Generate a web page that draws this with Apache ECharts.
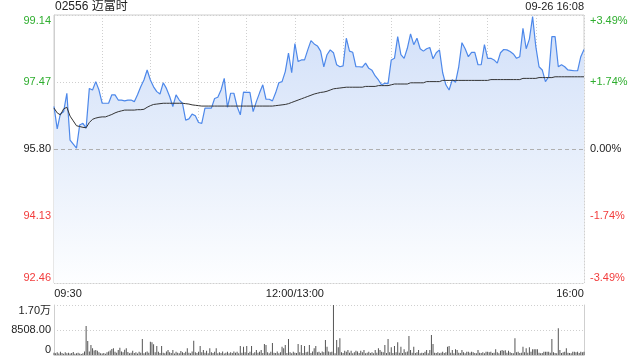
<!DOCTYPE html>
<html><head><meta charset="utf-8">
<script src="https://cdn.jsdelivr.net/npm/echarts@6/dist/echarts.min.js"></script>
<style>html,body{margin:0;padding:0;background:#fff}#c{width:640px;height:360px}</style>
</head><body><div id="c"></div>
<script>
const stockTitle = '02556 迈富时';
const stampText = '09-26 16:08';
const watermark = 'sina.com';
const prevClose = 95.80;
const priceStep = 1.67;
const priceTicks = ['92.46', '94.13', '95.80', '97.47', '99.14'];
const pctTicks = ['-3.49%', '-1.74%', '0.00%', '+1.74%', '+3.49%'];
const timeTicks = { 0: '09:30', 150: '12:00/13:00', 330: '16:00' };
const volMax = 17016;
const volTicks = { 0: '0', 8508: '8508.00', 17016: '1.70万' };
const priceEveryMin = 2;

const prices = [
96.86, 96.30, 96.68, 96.73, 97.19, 96.02, 95.92, 95.82, 96.40, 96.44,
96.32, 97.31, 97.27, 97.48, 97.27, 96.94, 96.94, 96.94, 97.15, 97.15,
97.02, 97.02, 97.00, 97.02, 97.02, 96.98, 97.15, 97.35, 97.52, 97.77,
97.52, 97.35, 97.23, 97.17, 97.45, 97.31, 97.11, 96.86, 97.15, 97.02,
96.94, 96.52, 96.55, 96.67, 96.63, 96.46, 96.44, 96.82, 96.82, 96.82,
97.06, 97.09, 97.27, 97.56, 96.84, 97.19, 97.19, 96.86, 96.65, 97.22,
97.21, 97.21, 96.73, 96.98, 97.20, 97.40, 97.04, 97.04, 97.00, 97.20,
97.45, 97.48, 97.73, 98.19, 97.70, 98.43, 97.98, 98.02, 98.02, 98.27,
98.50, 98.42, 98.37, 98.24, 97.85, 98.15, 98.27, 98.20, 97.90, 97.85,
97.87, 98.56, 98.24, 98.21, 97.85, 97.85, 97.84, 97.94, 97.81, 97.76,
97.62, 97.52, 97.40, 97.44, 97.43, 98.02, 98.06, 98.60, 98.15, 98.06,
98.31, 98.67, 98.40, 98.56, 98.30, 98.24, 98.30, 98.33, 98.05, 98.20,
98.27, 97.70, 97.40, 97.27, 97.53, 97.46, 97.85, 98.45, 98.30, 98.10,
98.21, 98.21, 97.90, 97.90, 98.40, 98.06, 98.06, 98.02, 97.94, 98.20,
98.28, 98.27, 98.23, 98.17, 98.06, 98.10, 98.81, 98.30, 98.54, 99.10,
98.35, 97.85, 97.77, 97.48, 97.60, 98.60, 98.60, 97.85, 97.90, 97.85,
97.77, 97.76, 97.75, 97.75, 98.10, 98.28
];

const avgPrices = [
96.82, 96.70, 96.65, 96.80, 96.84, 96.62, 96.50, 96.38, 96.36, 96.34,
96.33, 96.46, 96.54, 96.57, 96.59, 96.60, 96.60, 96.63, 96.66, 96.70,
96.73, 96.75, 96.77, 96.77, 96.77, 96.77, 96.78, 96.78, 96.79, 96.84,
96.88, 96.91, 96.92, 96.93, 96.94, 96.94, 96.94, 96.94, 96.94, 96.94,
96.94, 96.93, 96.92, 96.90, 96.89, 96.88, 96.87, 96.87, 96.87, 96.87,
96.87, 96.87, 96.87, 96.87, 96.87, 96.87, 96.87, 96.87, 96.87, 96.87,
96.87, 96.87, 96.87, 96.87, 96.87, 96.87, 96.87, 96.87, 96.87, 96.88,
96.89, 96.90, 96.91, 96.93, 96.96, 96.99, 97.02, 97.05, 97.08, 97.11,
97.14, 97.17, 97.19, 97.21, 97.22, 97.24, 97.27, 97.30, 97.31, 97.32,
97.33, 97.34, 97.34, 97.34, 97.34, 97.34, 97.34, 97.36, 97.36, 97.36,
97.36, 97.38, 97.38, 97.38, 97.38, 97.40, 97.42, 97.42, 97.42, 97.42,
97.42, 97.45, 97.45, 97.45, 97.45, 97.45, 97.48, 97.48, 97.48, 97.48,
97.48, 97.51, 97.51, 97.51, 97.51, 97.51, 97.51, 97.51, 97.51, 97.51,
97.51, 97.51, 97.51, 97.51, 97.51, 97.51, 97.53, 97.53, 97.53, 97.53,
97.53, 97.53, 97.53, 97.53, 97.53, 97.53, 97.56, 97.56, 97.56, 97.56,
97.56, 97.58, 97.58, 97.58, 97.58, 97.58, 97.60, 97.60, 97.60, 97.60,
97.60, 97.60, 97.60, 97.60, 97.60, 97.60
];

const volumes = [
800, 600, 900, 500, 1100, 700, 400, 900, 600, 800,
500, 700, 1000, 400, 600, 800, 500, 300, 600, 1200,
9870, 4760, 1200, 3400, 2268, 1500, 1700, 1474, 900, 600,
500, 700, 400, 900, 1200, 1500, 2000, 2268, 1100, 800,
1700, 2500, 1200, 900, 1800, 2268, 1000, 600, 800, 1474,
700, 900, 500, 1100, 800, 5445, 600, 900, 1200, 800,
4540, 4300, 3700, 900, 3063, 1100, 700, 3063, 800, 600,
1200, 1701, 900, 700, 1701, 500, 1100, 800, 600, 1400,
900, 700, 1100, 2268, 800, 600, 1200, 4877, 900, 700,
1100, 3063, 900, 1701, 800, 1474, 600, 2268, 900, 700,
1100, 2268, 600, 900, 700, 1200, 500, 800, 1100, 600,
900, 700, 1200, 800, 1100, 600, 3063, 800, 2836, 900,
3063, 700, 1100, 3063, 600, 900, 1701, 800, 1100, 1701,
700, 3743, 3403, 900, 600, 1100, 4100, 800, 700, 1200,
600, 900, 2836, 2268, 3403, 700, 5445, 900, 600, 1100,
800, 700, 3743, 900, 3403, 700, 3063, 900, 1100, 3403,
700, 1200, 2268, 3063, 900, 1100, 700, 1200, 900, 5100,
2836, 1200, 900, 1100, 17000, 600, 5104, 2609, 5672, 900,
700, 1474, 1100, 1701, 800, 1474, 600, 900, 1474, 1200,
700, 1474, 900, 1701, 600, 800, 1100, 700, 900, 600,
1701, 800, 2268, 1701, 1100, 900, 3403, 700, 5445, 900,
2609, 700, 3063, 900, 4311, 800, 2836, 700, 1928, 900,
1200, 6466, 1701, 800, 2836, 700, 900, 1701, 600, 800,
700, 1100, 1701, 600, 1701, 6806, 3743, 800, 700, 900,
600, 800, 1100, 700, 900, 2836, 3063, 800, 1701, 600,
1928, 1701, 800, 700, 1701, 900, 600, 1134, 1134, 800,
1134, 900, 700, 600, 1701, 800, 700, 900, 600, 1134,
1134, 900, 1134, 700, 800, 1928, 900, 600, 1474, 1701,
1474, 1600, 800, 1474, 900, 700, 600, 5672, 900, 1134,
700, 800, 2836, 900, 2268, 800, 2609, 1100, 1928, 1928,
1928, 1928, 800, 600, 700, 1134, 1134, 1134, 1134, 800,
5445, 900, 700, 600, 9075, 1701, 700, 900, 1100, 2268,
800, 700, 600, 1134, 1134, 900, 1134, 700, 1134, 900,
1100
];

const FONT = 'Arial, "Liberation Sans", "Noto Sans CJK SC", sans-serif';
const GREEN = '#2fae2f', RED = '#f23c3c', DARK = '#222';
const toStep = p => (p - prevClose) / priceStep;

function richSet(fs) {
  const base = { fontSize: fs, fontFamily: FONT };
  return {
    gt: Object.assign({ color: GREEN, padding: [11, 0, 0, 0] }, base),
    g: Object.assign({ color: GREEN }, base),
    n: Object.assign({ color: DARK }, base),
    r: Object.assign({ color: RED }, base),
    rb: Object.assign({ color: RED, padding: [0, 0, 11, 0] }, base),
    t: Object.assign({ color: DARK, padding: [11, 0, 0, 0] }, base),
    b: Object.assign({ color: DARK, padding: [0, 0, 11, 0] }, base),
    l: Object.assign({ color: DARK, padding: [0, 0, 0, 28] }, base),
    rr: Object.assign({ color: DARK, padding: [0, 28, 0, 0] }, base),
    c: Object.assign({ color: DARK }, base)
  };
}
function styleFor(v) {
  const k = Math.round(v);
  return k === 2 ? 'gt' : k > 0 ? 'g' : k === 0 ? 'n' : k === -2 ? 'rb' : 'r';
}

const chart = echarts.init(document.getElementById('c'), null, { renderer: 'canvas' });
const gridColor = '#cfcfcf';
chart.setOption({
  animation: false,
  backgroundColor: '#fff',
  grid: [
    { left: 54, right: 56, top: 15, height: 268, show: true, borderColor: gridColor, borderWidth: 1, backgroundColor: 'transparent' },
    { left: 54, right: 56, top: 305, height: 50 }
  ],
  xAxis: [
    {
      type: 'value', gridIndex: 0, min: 0, max: 330, interval: 30,
      axisLine: { show: true, lineStyle: { color: gridColor } }, axisTick: { show: false },
      axisLabel: {
        margin: 5, showMinLabel: true, showMaxLabel: true, rich: richSet(11),
        formatter: v => v === 0 ? '{l|' + timeTicks[0] + '}' : v === 330 ? '{rr|' + timeTicks[330] + '}' : v === 150 ? '{c|' + timeTicks[150] + '}' : ''
      },
      splitLine: { show: true, lineStyle: { color: gridColor, type: [1, 2], width: 1 } }
    },
    {
      type: 'value', gridIndex: 1, min: 0, max: 330, interval: 30,
      axisLine: { show: true, lineStyle: { color: gridColor } }, axisTick: { show: false },
      axisLabel: { show: false }, splitLine: { show: false }
    }
  ],
  yAxis: [
    {
      type: 'value', gridIndex: 0, position: 'left', min: -2, max: 2, interval: 1,
      axisLine: { show: true, lineStyle: { color: gridColor } }, axisTick: { show: false },
      axisLabel: { margin: 3, rich: richSet(11), formatter: v => '{' + styleFor(v) + '|' + priceTicks[Math.round(v) + 2] + '}' },
      splitLine: { show: true, lineStyle: { color: gridColor, type: [1, 2], width: 1 } }
    },
    {
      type: 'value', gridIndex: 0, position: 'right', min: -2, max: 2, interval: 1,
      axisLine: { show: false }, axisTick: { show: false },
      axisLabel: { margin: 6, rich: richSet(11), formatter: v => '{' + styleFor(v) + '|' + pctTicks[Math.round(v) + 2] + '}' },
      splitLine: { show: false }
    },
    {
      type: 'value', gridIndex: 1, position: 'left', min: 0, max: volMax, interval: volMax / 2,
      axisLine: { show: true, lineStyle: { color: gridColor } }, axisTick: { show: false },
      axisLabel: {
        margin: 3, rich: richSet(11),
        formatter: v => {
          const key = Math.round(v);
          const s = key === volMax ? 't' : key === 0 ? 'b' : 'c';
          return '{' + s + '|' + volTicks[key] + '}';
        }
      },
      splitLine: { show: true, lineStyle: { color: gridColor, type: [1, 2], width: 1 } }
    },
    {
      type: 'value', gridIndex: 1, position: 'right', min: 0, max: volMax, interval: volMax / 2,
      axisLine: { show: true, lineStyle: { color: gridColor } }, axisTick: { show: false },
      axisLabel: { show: false }, splitLine: { show: false }
    }
  ],
  series: [
    {
      type: 'line', xAxisIndex: 0, yAxisIndex: 0,
      data: prices.map((p, i) => [i * priceEveryMin, toStep(p)]),
      showSymbol: false, symbol: 'none',
      lineStyle: { color: '#4d88ea', width: 1.2 },
      areaStyle: {
        origin: 'start', opacity: 1,
        color: new echarts.graphic.LinearGradient(0, 0, 0, 1, [
          { offset: 0, color: '#d2e0f9' },
          { offset: 0.5, color: '#e6eefb' },
          { offset: 1, color: '#fdfeff' }
        ])
      },
      markLine: {
        silent: true, symbol: ['none', 'none'], label: { show: false },
        lineStyle: { color: '#b0b0b0', type: [4, 3], width: 1 },
        data: [{ yAxis: 0 }]
      },
      z: 2
    },
    {
      type: 'line', xAxisIndex: 0, yAxisIndex: 0,
      data: avgPrices.map((p, i) => [i * priceEveryMin, toStep(p)]),
      showSymbol: false, symbol: 'none',
      lineStyle: { color: '#333', width: 1 }, z: 3
    },
    {
      type: 'bar', xAxisIndex: 1, yAxisIndex: 2,
      data: volumes.map((v, i) => [i, v]),
      barWidth: 1, itemStyle: { color: '#555' }
    }
  ],
  graphic: [
    { type: 'text', left: 55, top: 1, style: { text: stockTitle, font: '12px ' + FONT, fill: '#222' } },
    { type: 'text', right: 56, top: 1, style: { text: stampText, font: '11px ' + FONT, fill: '#222' } },
    { type: 'text', right: 67, top: 273, style: { text: watermark, font: '10.5px ' + FONT, fill: '#c8c8c8' } }
  ]
});
</script>
</body></html>
